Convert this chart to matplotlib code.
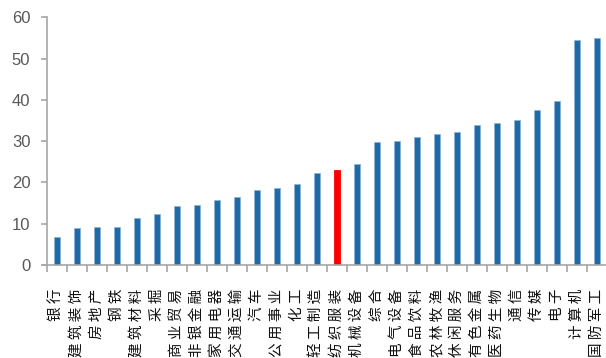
import matplotlib
matplotlib.use("Agg")
import matplotlib.pyplot as plt
import numpy as np

industries = ["银行", "建筑装饰", "房地产", "钢铁", "建筑材料", "采掘", "商业贸易",
              "非银金融", "家用电器", "交通运输", "汽车", "公用事业", "化工", "轻工制造",
              "纺织服装", "机械设备", "综合", "电气设备", "食品饮料", "农林牧渔",
              "休闲服务", "有色金属", "医药生物", "通信", "传媒", "电子", "计算机", "国防军工"]
values = [6.8, 9.0, 9.1, 9.3, 11.5, 12.3, 14.2, 14.6, 15.7, 16.5, 18.2, 18.6, 19.6, 22.2,
          23.0, 24.4, 29.7, 30.0, 31.1, 31.7, 32.1, 33.8, 34.5, 35.1, 37.5, 39.7, 54.5, 54.9]
highlight = "纺织服装"
yticks = [0, 10, 20, 30, 40, 50, 60]

blue = "#1C6AA6"
red = "#FF0000"
axis_gray = "#A6A6A6"
text_gray = "#595959"

fig = plt.figure(figsize=(6.06, 3.58), dpi=100)
ax = fig.add_axes([47 / 606, 1 - 265 / 358, 560 / 606, (265 - 17.3) / 358])

x = np.arange(len(industries))
colors = [red if n == highlight else blue for n in industries]
edges = ["#FF0000" if n == highlight else "#8DB4D6" for n in industries]
ax.bar(x, values, width=0.33, color=colors, edgecolor=edges, linewidth=0.6, zorder=2)

ax.set_xlim(-0.5, len(industries) - 0.5)
ax.set_ylim(0, 60)
ax.set_yticks(yticks)
ax.set_yticklabels([str(v) for v in yticks], fontsize=12, color=text_gray,
                   family="Liberation Sans")

for s in ["top", "right"]:
    ax.spines[s].set_visible(False)
for s in ["left", "bottom"]:
    ax.spines[s].set_color(axis_gray)
    ax.spines[s].set_linewidth(1.2)
ax.spines["bottom"].set_bounds(-0.5 - 4 / 20, len(industries) - 0.5)

ax.tick_params(axis="y", length=4, width=1.2, color=axis_gray, pad=8)

# vertical labels with a little tracking between the characters
spaced = [" ".join(n) for n in industries]
ax.set_xticks(x)
ax.set_xticklabels(spaced, rotation=90, va="top", ha="center",
                   fontsize=10.5, family=["Noto Sans CJK SC", "DejaVu Sans"],
                   color="#111111")
ax.tick_params(axis="x", which="major", length=0, pad=17)
ax.set_xticks(np.arange(-0.5, len(industries), 1.0), minor=True)
ax.tick_params(axis="x", which="minor", length=5, width=1.2, color=axis_gray)

fig.savefig("out.png", dpi=100)
